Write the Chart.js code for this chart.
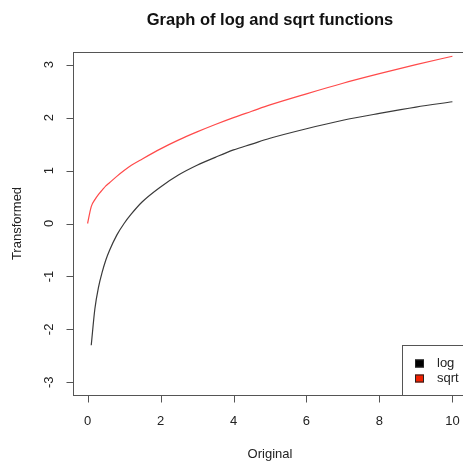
<!DOCTYPE html>
<html>
<head>
<meta charset="utf-8">
<script src="https://cdn.jsdelivr.net/npm/chart.js@4/dist/chart.umd.min.js"></script>
<style>
  html, body { margin: 0; padding: 0; overflow: hidden; background: #fff; }
  canvas { display: block; }
</style>
</head>
<body>
<canvas id="funcChart" width="470" height="461"></canvas>
<script>
// Values
const original = [0, 0.1, 0.2, 0.3, 0.4, 0.5, 0.6, 0.8, 1, 1.2, 1.5, 2, 2.5, 3, 3.5, 4, 4.5, 5, 6, 7, 8, 9, 10];
const logValues = [null, -2.30, -1.61, -1.20, -0.92, -0.69, -0.51, -0.22, 0, 0.18, 0.41, 0.69, 0.92, 1.10, 1.25, 1.39, 1.50, 1.61, 1.79, 1.95, 2.08, 2.20, 2.30];
const sqrtValues = [0, 0.32, 0.45, 0.55, 0.63, 0.71, 0.77, 0.89, 1, 1.10, 1.22, 1.41, 1.58, 1.73, 1.87, 2.00, 2.12, 2.24, 2.45, 2.65, 2.83, 3.00, 3.16];
const xTicks = [0, 2, 4, 6, 8, 10];
const yTicks = [-3, -2, -1, 0, 1, 2, 3];
const legendLabels = ["log", "sqrt"];
const legendColors = ["#000000", "#f02000"];

const FONT = '"Liberation Sans", Arial, sans-serif';

function toPoints(ys) {
  return original
    .map((x, i) => ({ x: x, y: ys[i] }))
    .filter((p) => p.y !== null);
}

// R style frame, axes, labels, title and legend
const rFrame = {
  id: "rFrame",
  afterDraw: (chart) => {
    const ctx = chart.ctx;
    const area = chart.chartArea;
    const xs = chart.scales.x;
    const ys = chart.scales.y;
    ctx.save();
    ctx.strokeStyle = "#555";
    ctx.lineWidth = 1;

    // plot box
    ctx.strokeRect(Math.round(area.left) + 0.5, Math.round(area.top) + 0.5,
      Math.round(area.right - area.left), Math.round(area.bottom - area.top));

    ctx.fillStyle = "#222";
    ctx.font = "13px " + FONT;

    // x axis ticks
    ctx.beginPath();
    const bottom = Math.round(area.bottom) + 0.5;
    xTicks.forEach((t) => {
      const px = Math.round(xs.getPixelForValue(t)) + 0.5;
      ctx.moveTo(px, bottom);
      ctx.lineTo(px, bottom + 7);
    });
    ctx.stroke();
    ctx.textAlign = "center";
    ctx.textBaseline = "middle";
    xTicks.forEach((t) => {
      ctx.fillText(String(t), xs.getPixelForValue(t), 421);
    });

    // y axis ticks
    ctx.beginPath();
    const left = Math.round(area.left) + 0.5;
    yTicks.forEach((t) => {
      const py = Math.round(ys.getPixelForValue(t)) + 0.5;
      ctx.moveTo(left, py);
      ctx.lineTo(left - 7, py);
    });
    ctx.stroke();
    yTicks.forEach((t) => {
      ctx.save();
      ctx.translate(49, ys.getPixelForValue(t));
      ctx.rotate(-Math.PI / 2);
      ctx.fillText(t < 0 ? "-" + Math.abs(t) : String(t), 0, 0);
      ctx.restore();
    });

    // axis titles
    ctx.fillText("Original", xs.getPixelForValue(5), 454);
    ctx.save();
    ctx.translate(17, ys.getPixelForValue(0));
    ctx.rotate(-Math.PI / 2);
    ctx.fillText("Transformed", 0, 0);
    ctx.restore();

    // main title
    ctx.fillStyle = "#111";
    ctx.font = "bold 16.5px " + FONT;
    ctx.fillText("Graph of log and sqrt functions", 270, 20);

    // legend
    ctx.fillStyle = "#fff";
    ctx.fillRect(402.5, 345.5, 80, 50);
    ctx.strokeRect(402.5, 345.5, 80, 50);
    ctx.font = "13px " + FONT;
    ctx.textAlign = "left";
    legendLabels.forEach((label, i) => {
      const y = 359.5 + i * 15;
      ctx.fillStyle = legendColors[i];
      ctx.fillRect(415, y, 9, 8);
      ctx.strokeStyle = "#222";
      ctx.strokeRect(415.5, y + 0.5, 8, 7);
      ctx.fillStyle = "#222";
      ctx.fillText(label, 437, y + 4);
    });
    ctx.restore();
  },
};

const ctx = document.getElementById("funcChart").getContext("2d");
new Chart(ctx, {
  type: "line",
  data: {
    datasets: [
      {
        label: "log",
        data: toPoints(logValues),
        borderColor: "#3a3a3a",
        borderWidth: 1.2,
        pointRadius: 0,
        cubicInterpolationMode: "monotone",
        fill: false,
      },
      {
        label: "sqrt",
        data: toPoints(sqrtValues),
        borderColor: "#ff4a4a",
        borderWidth: 1.2,
        pointRadius: 0,
        cubicInterpolationMode: "monotone",
        fill: false,
      },
    ],
  },
  options: {
    responsive: false,
    animation: false,
    layout: { padding: { left: 73, top: 52, right: 3, bottom: 66 } },
    plugins: {
      legend: { display: false },
      title: { display: false },
      tooltip: { enabled: false },
    },
    scales: {
      x: { type: "linear", min: -0.4, max: 10.4, display: false },
      y: { type: "linear", min: -3.24, max: 3.24, display: false },
    },
  },
  plugins: [rFrame],
});
</script>
</body>
</html>
